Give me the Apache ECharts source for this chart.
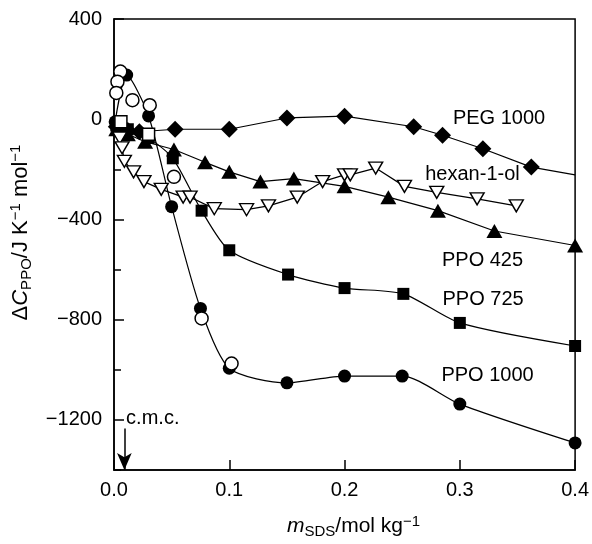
<!DOCTYPE html>
<html><head><meta charset="utf-8">
<script src="https://cdn.jsdelivr.net/npm/echarts@6/dist/echarts.min.js"></script>
<style>html,body{margin:0;padding:0;background:#fff}#c{width:592px;height:544px}</style>
</head><body><div id="c"></div>
<script>
// ---- data (x: m_SDS / mol kg^-1, y: ΔC_PPO / J K^-1 mol^-1) ----
const xTicks = [0, 0.1, 0.2, 0.3, 0.4];
const yLabelTicks = [400, 0, -400, -800, -1200];
const yMinorTicks = [200, -200, -600, -1000];

const peg1000 = [[0.002,-30],[0.012,-45],[0.022,-50],[0.053,-40],[0.1,-40],[0.15,5],[0.2,12],[0.26,-30],[0.285,-64],[0.32,-118],[0.362,-191]];
const peg1000End = [0.4,-222];
const ppo425 = [[0.002,-40],[0.012,-60],[0.027,-90],[0.052,-121],[0.079,-172],[0.1,-210],[0.127,-249],[0.156,-237],[0.2,-268],[0.238,-311],[0.281,-365],[0.33,-446],[0.4,-504]];
const ppo725 = [[0.002,-25],[0.012,-40],[0.03,-75],[0.051,-156],[0.076,-365],[0.1,-523],[0.151,-620],[0.2,-674],[0.251,-697],[0.3,-813],[0.4,-905]];
const ppo1000 = [[0.001,-10],[0.011,176],[0.03,13],[0.05,-349],[0.075,-755],[0.1,-994],[0.15,-1052],[0.2,-1025],[0.25,-1025],[0.3,-1137],[0.4,-1292]];
const ppo1000Open = [[0.0055,190],[0.003,150],[0.002,105],[0.016,76],[0.031,56],[0.052,-230],[0.076,-795],[0.102,-975]];
const ppo725Open = [[0.006,-10],[0.03,-60]];
const hexanol = [[0.005,-75],[0.007,-114],[0.009,-168],[0.017,-210],[0.026,-249],[0.041,-280],[0.06,-311],[0.066,-311],[0.087,-357],[0.115,-361],[0.134,-346],[0.159,-311],[0.181,-249],[0.2,-222],[0.205,-222],[0.227,-195],[0.252,-268],[0.28,-292],[0.315,-318],[0.349,-346]];

const annotations = [['PEG 1000',0.294,2],['hexan-1-ol',0.27,-222],['PPO 425',0.2845,-562],['PPO 725',0.285,-720],['PPO 1000',0.284,-1021],['c.m.c.',0.0105,-1195]];
const cmc = 0.009;
const cmcArrow = [-1234, -1400];

const FONT = 'Liberation Sans, Arial, Helvetica, sans-serif';
const BLACK = '#000';
const lineStyle = {color: BLACK, width: 1.2};

function lineSeries(name, data, symbol, size, extra) {
  return Object.assign({
    name, type: 'line', data, symbol, symbolSize: size, showAllSymbol: true,
    lineStyle, itemStyle: {color: BLACK, borderColor: BLACK, borderWidth: 0, opacity: 1},
    z: 3, silent: true
  }, extra || {});
}

const chart = echarts.init(document.getElementById('c'), null, {renderer: 'canvas'});
chart.setOption({
  animation: false,
  backgroundColor: '#fff',
  grid: {left: 112, right: 16, top: 19, bottom: 59, show: true, borderColor: BLACK, borderWidth: 1.5, backgroundColor: 'transparent'},
  xAxis: {
    type: 'value', min: xTicks[0], max: xTicks[xTicks.length-1], interval: 0.1,
    axisLine: {onZero: false, lineStyle: {color: BLACK, width: 1.5}},
    axisTick: {inside: true, length: 10, lineStyle: {color: BLACK, width: 1.5}},
    splitLine: {show: false},
    axisLabel: {formatter: v => v.toFixed(1), fontSize: 20, color: BLACK, margin: 10, fontFamily: FONT},
    name: '{i|m}{sub|SDS}{n|/mol kg}{sup|−1}', nameLocation: 'middle', nameGap: 44,
    nameTextStyle: {fontFamily: FONT, color: BLACK, padding: [0, 0, 0, 18], rich: {
      i: {fontSize: 21, fontStyle: 'italic', fontFamily: FONT},
      n: {fontSize: 21, fontFamily: FONT},
      sub: {fontSize: 15, padding: [10,0,0,0], fontFamily: FONT},
      sup: {fontSize: 15, padding: [0,0,10,0], fontFamily: FONT}
    }}
  },
  yAxis: [{
    type: 'value', min: -1400, max: 400, interval: 200,
    axisLine: {onZero: false, lineStyle: {color: BLACK, width: 1.5}},
    axisTick: {inside: true, length: 7, lineStyle: {color: BLACK, width: 1.5}},
    splitLine: {show: false},
    axisLabel: {formatter: v => (v % 400 === 0 ? (v < 0 ? '−' + (-v) : String(v)) : ''), fontSize: 20, color: BLACK, margin: 12, fontFamily: FONT},
    name: '{d|Δ}{i|C}{sub|PPO}{n|/J K}{sup|−1}{n| mol}{sup|−1}', nameLocation: 'middle', nameGap: 80, nameRotate: 90,
    nameTextStyle: {fontFamily: FONT, color: BLACK, padding: [0, 0, 0, 24], rich: {
      d: {fontSize: 22, fontFamily: FONT},
      i: {fontSize: 22, fontStyle: 'italic', fontFamily: FONT},
      n: {fontSize: 22, fontFamily: FONT},
      sub: {fontSize: 15, padding: [11,0,0,0], fontFamily: FONT},
      sup: {fontSize: 15, padding: [0,0,11,0], fontFamily: FONT}
    }}
  }, {
    type: 'value', min: -1400, max: 400, position: 'left',
    axisLine: {show: false, onZero: false},
    axisTick: {show: true, inside: true, length: 10, customValues: yLabelTicks, lineStyle: {color: BLACK, width: 1.5}},
    axisLabel: {show: false}, splitLine: {show: false}
  }],
  series: [
    lineSeries('PEG 1000', peg1000.concat([{value: peg1000End, symbol: 'none'}]), 'diamond', 17),
    lineSeries('PPO 425', ppo425, 'triangle', [16,14]),
    lineSeries('PPO 725', ppo725, 'rect', 12, {smooth: 0.25}),
    lineSeries('PPO 1000', ppo1000, 'circle', 13, {smooth: 0.25,
      markLine: {silent: true, symbol: ['none','arrow'], symbolSize: [11,17], label: {show: false},
        lineStyle: {color: BLACK, width: 1.5, type: 'solid', opacity: 1},
        data: [[{coord: [cmc, cmcArrow[0]]}, {coord: [cmc, cmcArrow[1]]}]]}}),
    lineSeries('hexan-1-ol', hexanol, 'triangle', [14,12], {symbolRotate: 180,
      itemStyle: {color: '#fff', borderColor: BLACK, borderWidth: 1.4, opacity: 1}, z: 4}),
    {name: 'PPO 1000 (open)', type: 'scatter', data: ppo1000Open, symbol: 'circle', symbolSize: 13,
      itemStyle: {color: '#fff', borderColor: BLACK, borderWidth: 1.5, opacity: 1}, z: 5, silent: true},
    {name: 'PPO 725 (open)', type: 'scatter', data: ppo725Open, symbol: 'rect', symbolSize: 12,
      itemStyle: {color: '#fff', borderColor: BLACK, borderWidth: 1.5, opacity: 1}, z: 5, silent: true},
    {name: 'labels', type: 'scatter', symbolSize: 0, silent: true, z: 6,
      itemStyle: {opacity: 1},
      data: annotations.map(a => ({name: a[0], value: [a[1], a[2]]})),
      label: {show: true, position: 'right', distance: 0, formatter: p => p.name, fontSize: 20, color: BLACK, opacity: 1, fontFamily: FONT}}
  ]
});
</script>
</body></html>
